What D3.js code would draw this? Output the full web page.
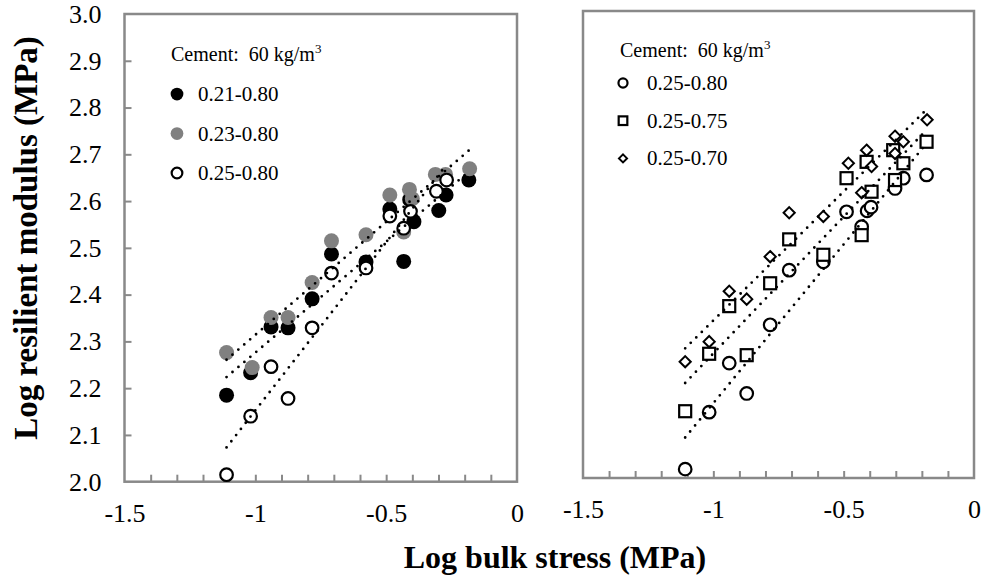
<!DOCTYPE html>
<html>
<head>
<meta charset="utf-8">
<script src="https://cdn.jsdelivr.net/npm/d3@7"></script>
<style>
  body { margin: 0; background: #fff; }
  text { font-family: "Liberation Serif", "Times New Roman", serif; }
</style>
</head>
<body>
<div id="chart-area"></div>
<script>
// values (log bulk stress, log resilient modulus)
var xTicksMajor = [-1.5, -1, -0.5, 0];
var yTicksMajor = [2.0, 2.1, 2.2, 2.3, 2.4, 2.5, 2.6, 2.7, 2.8, 2.9, 3.0];

// left panel
var s21_80x = [-1.110, -1.018, -0.940, -0.875, -0.783, -0.709, -0.577, -0.486, -0.433, -0.410, -0.394, -0.299, -0.271, -0.184];
var s21_80y = [2.185, 2.233, 2.331, 2.329, 2.391, 2.487, 2.470, 2.583, 2.471, 2.603, 2.556, 2.580, 2.613, 2.645];
var s23_80x = [-1.110, -1.012, -0.940, -0.875, -0.783, -0.709, -0.577, -0.486, -0.433, -0.411, -0.400, -0.312, -0.273, -0.181];
var s23_80y = [2.276, 2.244, 2.351, 2.351, 2.426, 2.515, 2.528, 2.613, 2.534, 2.625, 2.605, 2.657, 2.657, 2.669];
var s25_80Lx = [-1.110, -1.018, -0.940, -0.875, -0.783, -0.709, -0.577, -0.486, -0.433, -0.407, -0.308, -0.269];
var s25_80Ly = [2.015, 2.140, 2.246, 2.178, 2.329, 2.446, 2.457, 2.568, 2.542, 2.578, 2.621, 2.645];

// right panel
var s25_80x = [-1.108, -1.016, -0.939, -0.872, -0.782, -0.709, -0.578, -0.489, -0.431, -0.410, -0.395, -0.303, -0.271, -0.182];
var s25_80y = [2.019, 2.141, 2.246, 2.181, 2.328, 2.445, 2.463, 2.570, 2.538, 2.572, 2.580, 2.620, 2.642, 2.649];
var s25_75x = [-1.108, -1.016, -0.939, -0.872, -0.782, -0.709, -0.578, -0.489, -0.431, -0.412, -0.393, -0.310, -0.303, -0.271, -0.182];
var s25_75y = [2.143, 2.266, 2.368, 2.263, 2.417, 2.511, 2.478, 2.642, 2.520, 2.677, 2.613, 2.702, 2.638, 2.674, 2.720];
var s25_70x = [-1.108, -1.016, -0.939, -0.872, -0.782, -0.709, -0.578, -0.482, -0.431, -0.412, -0.393, -0.303, -0.303, -0.271, -0.180];
var s25_70y = [2.249, 2.292, 2.400, 2.383, 2.474, 2.568, 2.560, 2.674, 2.611, 2.702, 2.667, 2.732, 2.695, 2.720, 2.767];

var zip = (xs, ys) => xs.map((x, i) => ({ x: x, y: ys[i] }));

var panels = [
	{
		x0: 124.5, x1: 517, y0: 481.7, y1: 14, yLabels: true,
		legend: { x: 171, y: 61, mx: 177, tx: 198, first: 33, row: 39.5, k: 0.85 },
		series: [
			{ name: '0.21-0.80', shape: 'circle', fill: '#000', data: zip(s21_80x, s21_80y) },
			{ name: '0.23-0.80', shape: 'circle', fill: '#808080', data: zip(s23_80x, s23_80y) },
			{ name: '0.25-0.80', shape: 'ring', fill: '#fff', data: zip(s25_80Lx, s25_80Ly) }
		]
	},
	{
		x0: 583, x1: 974, y0: 478, y1: 11, yLabels: false,
		legend: { x: 620, y: 57, mx: 623, tx: 647, first: 26, row: 37.7, k: 0.72 },
		series: [
			{ name: '0.25-0.80', shape: 'ring', fill: '#fff', data: zip(s25_80x, s25_80y) },
			{ name: '0.25-0.75', shape: 'square', fill: '#fff', data: zip(s25_75x, s25_75y) },
			{ name: '0.25-0.70', shape: 'diamond', fill: '#fff', data: zip(s25_70x, s25_70y) }
		]
	}
];

var svg = d3.select('#chart-area')
	.append('svg')
		.attr('width', 981)
		.attr('height', 577);

// least squares fit, like the spreadsheet trendline
var fit = data => {
	var mx = d3.mean(data, d => d.x), my = d3.mean(data, d => d.y);
	var sxy = d3.sum(data, d => (d.x - mx) * (d.y - my));
	var sxx = d3.sum(data, d => (d.x - mx) * (d.x - mx));
	var b = sxy / sxx, a = my - b * mx;
	var ext = d3.extent(data, d => d.x);
	return ext.map(x => ({ x: x, y: a + b * x }));
};

var drawMarker = (sel, shape, fill, k) => {
	k = k || 1;
	if (shape === 'circle') {
		sel.append('circle').attr('r', 7.5 * k).attr('fill', fill);
	} else if (shape === 'ring') {
		sel.append('circle').attr('r', 6.3 * k).attr('fill', '#fff')
			.attr('stroke', '#000').attr('stroke-width', 2.2);
	} else if (shape === 'square') {
		var h = 6 * k;
		sel.append('rect').attr('x', -h).attr('y', -h).attr('width', 2 * h).attr('height', 2 * h)
			.attr('fill', '#fff').attr('stroke', '#000').attr('stroke-width', 2.2);
	} else {
		var r = 5.6 * k;
		sel.append('path').attr('d', 'M0,' + (-r) + 'L' + r + ',0L0,' + r + 'L' + (-r) + ',0Z')
			.attr('fill', '#fff').attr('stroke', '#000').attr('stroke-width', 2);
	}
};

panels.forEach(p => {
	var xScale = d3.scaleLinear().domain([-1.5, 0]).range([p.x0, p.x1]);
	var yScale = d3.scaleLinear().domain([2, 3]).range([p.y0, p.y1]);
	var g = svg.append('g');

	// minor ticks pointing inward
	g.append('g')
		.attr('transform', 'translate(0,' + p.y0 + ')')
		.call(d3.axisBottom(xScale).tickValues(d3.range(-14, 0).map(d => d / 10)).tickSize(-7).tickFormat(''))
		.call(a => a.select('.domain').remove())
		.call(a => a.selectAll('line').attr('stroke', '#898989').attr('stroke-width', 2));

	g.append('g')
		.attr('transform', 'translate(0,' + p.y0 + ')')
		.attr('font-family', '"Liberation Serif", serif')
		.call(d3.axisBottom(xScale).tickValues(xTicksMajor).tickSize(0).tickPadding(22).tickFormat(d => String(d)))
		.call(a => a.select('.domain').remove())
		.call(a => a.selectAll('text').attr('font-size', '26px').attr('fill', '#000')
			.attr('font-family', '"Liberation Serif", serif'));

	if (p.yLabels) {
		g.append('g')
			.attr('transform', 'translate(' + p.x0 + ',0)')
			.call(d3.axisLeft(yScale).tickValues(yTicksMajor.slice(1, -1)).tickSize(-7).tickFormat(''))
			.call(a => a.select('.domain').remove())
			.call(a => a.selectAll('line').attr('stroke', '#898989').attr('stroke-width', 2));
		g.append('g')
			.attr('transform', 'translate(' + p.x0 + ',0)')
			.call(d3.axisLeft(yScale).tickValues(yTicksMajor).tickSize(0).tickPadding(23).tickFormat(d3.format('.1f')))
			.call(a => a.select('.domain').remove())
			.call(a => a.selectAll('text').attr('font-size', '26px').attr('fill', '#000')
				.attr('font-family', '"Liberation Serif", serif'));
	}

	g.append('rect')
		.attr('x', p.x0).attr('y', p.y1)
		.attr('width', p.x1 - p.x0).attr('height', p.y0 - p.y1)
		.attr('fill', 'none').attr('stroke', '#898989').attr('stroke-width', 2.5);

	// markers
	p.series.forEach(s => {
		g.append('g').selectAll('g')
			.data(s.data)
			.enter().append('g')
				.attr('transform', d => 'translate(' + xScale(d.x) + ',' + yScale(d.y) + ')')
				.each(function() { drawMarker(d3.select(this), s.shape, s.fill); });
	});

	// dotted trendlines on top
	var line = d3.line().x(d => xScale(d.x)).y(d => yScale(d.y));
	p.series.forEach(s => {
		g.append('path')
			.attr('d', line(fit(s.data)))
			.attr('fill', 'none')
			.attr('stroke', '#000')
			.attr('stroke-width', 2.8)
			.attr('stroke-linecap', 'round')
			.attr('stroke-dasharray', '0,7.8');
	});

	// legend
	var lg = p.legend;
	var cap = g.append('text').attr('x', lg.x).attr('y', lg.y).attr('font-size', '20px');
	cap.append('tspan').text('Cement:\u00a0 60 kg/m');
	cap.append('tspan').attr('font-size', '13px').attr('dy', -8).text('3');

	p.series.forEach((s, i) => {
		var cy = lg.y + lg.first + i * lg.row;
		var m = g.append('g').attr('transform', 'translate(' + lg.mx + ',' + cy + ')');
		drawMarker(m, s.shape, s.fill, lg.k);
		g.append('text')
			.attr('x', lg.tx).attr('y', cy + 7)
			.attr('font-size', '21px')
			.text(s.name);
	});
});

svg.append('text')
	.attr('x', 555)
	.attr('y', 568)
	.attr('text-anchor', 'middle')
	.attr('font-size', '32px')
	.attr('font-weight', 'bold')
	.text('Log bulk stress (MPa)');

svg.append('text')
	.attr('transform', 'translate(37,238) rotate(-90)')
	.attr('text-anchor', 'middle')
	.attr('font-size', '33px')
	.attr('font-weight', 'bold')
	.text('Log resilient modulus (MPa)');
</script>
</body>
</html>
